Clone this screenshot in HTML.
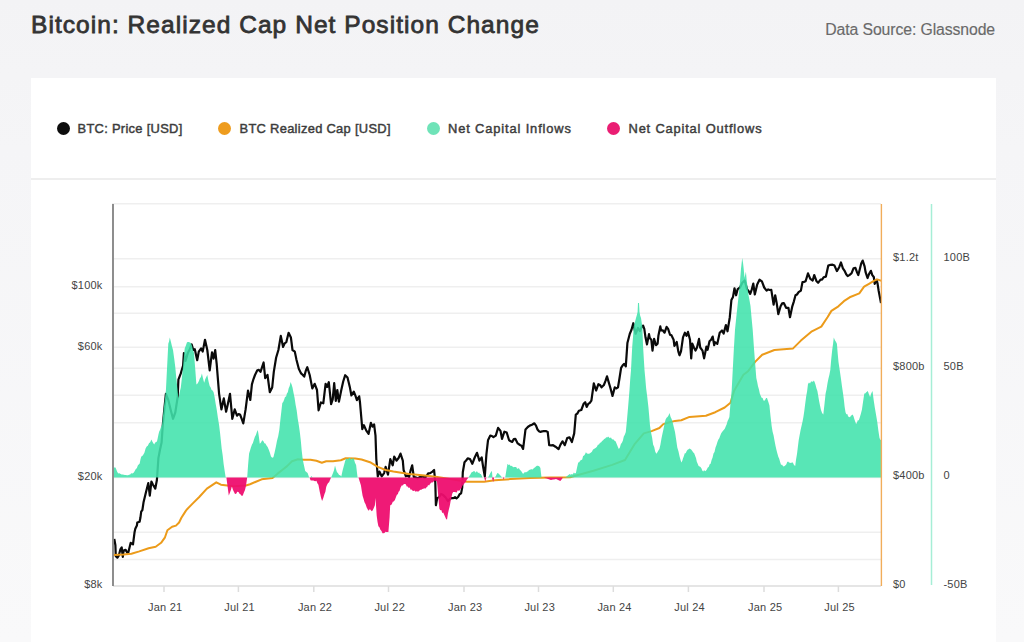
<!DOCTYPE html>
<html><head><meta charset="utf-8">
<style>
html,body{margin:0;padding:0;}
body{width:1024px;height:642px;overflow:hidden;position:relative;background:linear-gradient(180deg,#f3f3f5 0px,#f5f5f7 150px,#f9f9fa 642px);font-family:"Liberation Sans",sans-serif;}
.title{position:absolute;left:31px;top:9.7px;font-size:24.5px;line-height:30px;color:#333;font-weight:normal;letter-spacing:1.05px;white-space:nowrap;-webkit-text-stroke:0.8px #333;}
.src{position:absolute;right:29px;top:20.5px;font-size:15.8px;line-height:18px;color:#6a6a6a;letter-spacing:-0.11px;white-space:nowrap;-webkit-text-stroke:0.15px #6a6a6a;}
.card{position:absolute;left:30.5px;top:77.7px;width:965.5px;height:600px;background:#fff;}
.sep{position:absolute;left:30.5px;top:178.3px;width:965.5px;height:1.5px;background:#eeeeee;}
.leg{position:absolute;top:120.7px;font-size:12.9px;line-height:16px;color:#3c3c3c;font-weight:normal;white-space:nowrap;-webkit-text-stroke:0.45px #3c3c3c;}
.dot{position:absolute;top:121.7px;width:13px;height:13px;border-radius:50%;}
svg{position:absolute;left:0;top:0;}
</style></head><body>
<div class="title">Bitcoin: Realized Cap Net Position Change</div>
<div class="src">Data Source: Glassnode</div>
<div class="card"></div>
<div class="sep"></div>
<div class="dot" style="left:56.5px;background:#0d0d0d"></div><div class="leg" style="left:77.5px;letter-spacing:0.3px">BTC: Price [USD]</div>
<div class="dot" style="left:218.3px;background:#ee9c1e"></div><div class="leg" style="left:239.5px;letter-spacing:0.3px">BTC Realized Cap [USD]</div>
<div class="dot" style="left:426.9px;background:#6fe3b8"></div><div class="leg" style="left:448px;letter-spacing:0.86px">Net Capital Inflows</div>
<div class="dot" style="left:607.2px;background:#ea1e73"></div><div class="leg" style="left:628.5px;letter-spacing:0.82px">Net Capital Outflows</div>
<svg width="1024" height="642" viewBox="0 0 1024 642">
<g stroke="#efefef" stroke-width="1.5"><line x1="114" x2="881" y1="258.8" y2="258.8"/><line x1="114" x2="881" y1="286.7" y2="286.7"/><line x1="114" x2="881" y1="313.2" y2="313.2"/><line x1="114" x2="881" y1="347.2" y2="347.2"/><line x1="114" x2="881" y1="368.2" y2="368.2"/><line x1="114" x2="881" y1="395.2" y2="395.2"/><line x1="114" x2="881" y1="422.8" y2="422.8"/><line x1="114" x2="881" y1="477.6" y2="477.6"/><line x1="114" x2="881" y1="532.3" y2="532.3"/><line x1="114" x2="881" y1="559.5" y2="559.5"/><line x1="112" x2="881" y1="203.8" y2="203.8"/></g>
<g stroke="#dddddd" stroke-width="1.5"><line x1="113" x2="881" y1="586" y2="586"/><line x1="164" x2="164" y1="586" y2="592"/><line x1="238.4" x2="238.4" y1="586" y2="592"/><line x1="313.8" x2="313.8" y1="586" y2="592"/><line x1="388.5" x2="388.5" y1="586" y2="592"/><line x1="464" x2="464" y1="586" y2="592"/><line x1="538.5" x2="538.5" y1="586" y2="592"/><line x1="613.3" x2="613.3" y1="586" y2="592"/><line x1="688.4" x2="688.4" y1="586" y2="592"/><line x1="764" x2="764" y1="586" y2="592"/><line x1="838.4" x2="838.4" y1="586" y2="592"/></g>
<path d="M114.3 538.9 L115.4 545.2 L115.8 556.1 L117.4 557.7 L118.9 555.3 L120.5 549.1 L121.7 547.5 L122.8 556.9 L123.6 550.6 L125.6 549.8 L127.1 552.6 L128.3 552.6 L130.7 542.8 L133 544.4 L134.6 531.9 L135.3 528.8 L136.9 525.6 L137.3 522.5 L139.6 521.7 L140.4 517.8 L141.2 511.6 L142.4 510 L143.6 501.9 L145.9 492.5 L148.3 483.1 L149.8 495.6 L151.4 481.6 L153 484.7 L155.3 488.6 L156.9 480 L158.4 458.1 L160 449.8 L161.6 442.5 L162.8 425 L164.4 408.4 L165.9 393.8 L168.3 400 L170.6 409.4 L173 418.8 L175.3 412.5 L177.7 396.9 L178.4 379.7 L180.8 373.4 L183.1 365.6 L183.9 353.1 L185.5 360.9 L187.8 353.1 L189.8 349.2 L191.7 344.5 L193.3 350 L194.8 349.2 L197.2 360.2 L198.8 351.6 L201.1 348.4 L202.7 351.6 L205 339.8 L207.3 350 L209.7 370.3 L212 352.3 L213.6 358.6 L215.2 350 L216.7 364.1 L219.1 393.8 L221.4 409.4 L223.8 398.4 L226.1 411.7 L227.7 404.7 L230 393.8 L232.3 418.8 L234.7 409.4 L237 415.6 L238.6 414 L240.2 414.8 L241.8 419.2 L243.3 423.4 L245.6 409.4 L248 390.6 L250.3 400 L251.9 384.4 L253.4 379.3 L255 375 L257.3 370.3 L258.9 369.9 L260.5 371.9 L262.1 367.2 L263.6 362.5 L265.2 378.1 L267.5 375 L269.8 392.2 L272.2 387.5 L273.8 371.9 L276.1 357.8 L278.4 350 L280.8 335.9 L283.1 346.9 L284.7 343.3 L286.3 342.2 L288.6 332.8 L290.9 337.5 L292.5 350 L294.8 351.6 L296.4 359.4 L298.8 368.8 L301.1 373.4 L302.6 374.8 L304.2 376.6 L305.8 370.7 L307.3 367.2 L309.7 375 L312.3 388.4 L314.7 383.8 L317 390 L318.6 410.3 L320.9 402.5 L323.3 403.3 L325.6 383.8 L327.2 386.9 L328.8 382.2 L331.1 404.1 L332.7 399.4 L334.2 383 L335.8 400.9 L337.3 390 L338.9 401.7 L341.3 390 L343.2 381.5 L345.2 375.2 L347.5 377.5 L349.8 386.9 L351.4 395.5 L353.8 391.6 L355.4 395.7 L356.9 400.2 L359.2 396.3 L360 402.5 L362.3 429.1 L363.9 425.2 L366.3 430.6 L368.6 433.8 L370.9 422.8 L372.5 426.7 L374.1 424.4 L375.5 435.6 L376.3 459.1 L377.8 476.3 L379.4 471.6 L381.7 476.3 L384.1 473.1 L385.6 466.9 L388 474.7 L390.3 459.1 L392.7 465.3 L394.2 456.7 L396.6 460.6 L398.6 458 L400.5 453.6 L402.8 460.6 L403.6 470 L405.9 476.3 L407.5 475.6 L409.1 477 L410.6 470.4 L412.2 465.3 L413.8 477 L415.8 477.4 L417.7 478.3 L419.7 477.2 L421.6 477 L423.2 476.5 L424.7 477.9 L426.3 476.3 L428.2 473.4 L430.2 473.1 L432.5 471.6 L434.1 470 L435.3 482.5 L435.9 505.2 L437.2 498.1 L439.1 497.1 L441 494 L443.2 495.1 L445.5 497.4 L448 501 L449.8 499 L451.6 498 L453.4 498.1 L455 497.2 L456.5 498.3 L458.1 497 L459.6 494.3 L461.1 493.4 L462.2 487.6 L462.8 472.3 L464.5 462.2 L466.1 460.5 L467.7 458.3 L470 459.1 L472.3 463.8 L474.7 457.5 L477 452.8 L479.4 460.6 L481.7 457.5 L483.2 467.3 L484.8 476.3 L486.4 454.4 L488 440.3 L490.3 435.6 L491.9 436 L493.4 437.2 L495.8 435.6 L498.1 427.8 L500.5 430.9 L502 438.8 L504.4 431.7 L506.7 432.5 L509.1 440.3 L510.7 441.2 L512.2 441.9 L513.8 439.1 L515.3 438.8 L517.7 443.4 L520 445 L521.5 445.7 L523.1 448.9 L525.5 429.4 L527.8 427 L529.7 425.6 L532 424.8 L534.4 423.3 L536 425.6 L537.5 429.5 L539 431.2 L540.6 431.9 L542.2 431.3 L543.8 431.1 L545.8 431 L547.7 431.9 L549.2 445.2 L551.2 445.4 L553.1 445.2 L555.5 446.7 L557 447.8 L558.6 449.1 L560.5 444.6 L562.5 441.3 L564.8 445.2 L567.2 438.1 L569.5 437.3 L571.9 442 L574.2 433.4 L575.8 414.7 L577.3 413.6 L578.9 410.8 L581.3 410 L583.6 403.8 L585.2 402.2 L586.7 406.9 L588.3 403.8 L589.8 402.8 L591.4 400.6 L593.8 383.4 L596.1 390.5 L598.4 384.2 L600 385 L601.6 387.3 L603.9 385 L605.5 380.9 L607 376.4 L608.6 381.9 L610.2 387.3 L612.5 395.9 L614.8 387.3 L616.4 388.4 L618 387.3 L619.5 378.2 L621.1 367.8 L622.7 365.3 L624.2 363.9 L625.8 366.3 L627.4 343.1 L629.8 333.7 L631.5 329.8 L633.3 323.2 L635.6 333.7 L638 328 L640 331.1 L641.5 327.3 L643.1 325.6 L644.3 328.8 L645.5 337.3 L647 344.4 L649 334.2 L649.8 338.1 L651.3 339.7 L652.5 350.6 L654.1 338.9 L656 345.2 L657.6 343.6 L658.4 335.8 L660.3 326.4 L661.1 330.3 L662.7 330.3 L664.6 332.7 L666.6 326.8 L668.1 328.8 L670.1 335 L671.3 335 L673.6 339.7 L674.4 345.9 L676.7 342 L678.3 351.4 L679.5 355.3 L681 351.4 L683 337.3 L684.9 332.7 L686.5 335.8 L688 331.9 L690 339.7 L691.2 358.4 L692.3 343.6 L693.9 347.5 L695.5 350.6 L697 347.5 L699 338.9 L700.2 347.5 L702.5 350.6 L704.1 358.4 L706.4 346.7 L707.6 349.8 L709.5 341.3 L711.1 339.7 L712.7 336.6 L714.2 345.2 L715 342.2 L717.3 343.8 L719.7 332.8 L722 330.5 L723.6 333.6 L725.9 325 L727.5 331.3 L729.8 317.2 L731.4 300 L733 296.9 L734.5 288.3 L736.1 295.3 L737.7 289.1 L740 287.5 L742.3 282.8 L744.7 280.5 L747 289.1 L748.6 291.2 L750.2 293.8 L751.8 289.4 L753.3 283.6 L754.8 294.5 L757.2 284.4 L759.5 279.7 L761.9 281.3 L764.2 287.5 L766.6 290.6 L768.2 289.4 L769.7 290 L771.3 289.8 L773.6 304.7 L775.2 295.3 L776.7 303.1 L778.3 314.1 L780.6 306.3 L782.2 303.4 L783.8 303.1 L786.1 307.8 L788.4 307.8 L790 317.2 L792.3 306.3 L793.9 301.3 L795.5 295.3 L797 294.5 L798.6 292.2 L800.9 290.6 L802.5 282 L804 281.9 L805.6 281.3 L808 273.4 L810.3 278.9 L812.7 280.5 L814.2 275 L816.6 281.3 L818.1 282.8 L820.5 279.7 L822 279.6 L823.6 277.3 L825.9 276.6 L828.3 265.6 L830.6 264.8 L832.5 264.7 L834.5 265.6 L836.9 271.1 L839.2 267.2 L841 262.5 L842.9 268.3 L844.8 271.2 L846.2 274.2 L847.7 276.1 L849.7 274.9 L851.6 273.2 L853.5 268.3 L855.4 267.9 L856.8 271.7 L858.3 275.1 L859.8 269.2 L861.2 263.5 L862.7 260.6 L864.6 266.4 L865.6 272.2 L867.5 278 L869 274.1 L870.9 270.8 L872.3 275.1 L873.8 277 L874.7 283.8 L876.7 279.9 L877.6 283.8 L878.6 290.5 L881 303.1" fill="none" stroke="#0a0a0a" stroke-width="2.2" stroke-linejoin="round"/>
<path d="M113.5 554.9 L123.6 554.5 L131.4 553.8 L139.3 551.4 L148.6 548.3 L155.7 546.7 L161.1 542.8 L165 537.3 L167.4 530.3 L172.1 526.8 L176 525.6 L179.1 522.5 L181.4 517.8 L185.3 511.6 L186.6 509.7 L192.8 503.4 L199 497.2 L206.9 488.6 L216.3 482.3 L220.9 484.7 L227.2 485.5 L233.4 486.3 L245.9 485.5 L250 484.2 L255.9 481.8 L261.7 479.3 L272.5 477.9 L277.3 473.9 L282.2 470 L287.1 466.1 L292 461.3 L297.9 459.3 L303.7 459.8 L310.5 459.8 L316.4 460.8 L321.8 462.7 L326.2 461.3 L333 461.3 L340.8 460.3 L345.7 458.3 L355.3 458.4 L361.6 459.5 L370 462.2 L377.8 466.9 L385.6 470 L393.4 471.6 L409.1 473.9 L424.7 475.5 L437.2 477 L466.9 481.7 L484.1 481.7 L495 480.2 L510.6 479.1 L530 478.1 L550.9 477.5 L570 477.3 L593.4 470.8 L612.2 464.9 L625 460 L634.4 444.4 L643.8 433.4 L651.6 431.1 L659.4 428 L663.3 424.1 L668.8 422.5 L675 420.9 L681.3 420.2 L689.5 416.9 L705.9 415.7 L715.3 412.2 L724.7 407.5 L730.5 402.8 L734 391.1 L743.4 374.7 L748.1 371.2 L755.1 361.9 L762.2 354.8 L774.4 350 L793.1 348.4 L800.9 340.6 L811.9 331.3 L821.3 326.6 L827.5 317.2 L831.4 310.9 L838.4 306.3 L843.9 301.2 L849.7 297.3 L859.3 293.4 L864.1 286.7 L869 283.8 L873.8 280.9 L877.2 279.4 L881.5 280.9" fill="none" stroke="#ec9b1a" stroke-width="2" stroke-linejoin="round"/>
<path d="M113 477.6 L113.1 467.5 L114.3 467.4 L115.5 467.5 L116.5 470 L117.4 472.2 L118.5 473.6 L119.6 473.3 L120.6 473.9 L121.7 474.5 L122.8 474.6 L123.8 474.8 L124.8 474.9 L125.9 475 L127 475.2 L128 475.3 L129.1 474.8 L130.2 474.6 L131.2 473.3 L132.3 473.5 L133.4 473 L134.6 471.3 L135.8 469 L136.8 468.2 L137.8 465.5 L138.7 464.6 L139.7 463.6 L140.5 459.3 L141.3 456.6 L142.3 455.9 L143.4 454.4 L144.4 452.7 L145.6 448.6 L146.7 446.4 L147.8 445.8 L149 443.3 L150.2 442.3 L151.4 439.4 L152.3 441.4 L153.2 443 L154.1 444.5 L155 442.9 L156 441.7 L156.9 441.7 L157.7 438.3 L158.4 434.7 L159.2 431.5 L160 430 L161 426.9 L162 425 L163 415.9 L163.9 406.9 L164.9 399.1 L165.9 390.6 L167.1 367.1 L168.3 343.8 L169.1 341.3 L169.8 337.5 L170.9 341.7 L171.9 346.1 L173 350 L174.2 358.6 L175.3 367.2 L176.3 377.9 L177.4 387.9 L178.4 398.4 L179.6 392.5 L180.8 387.5 L181.8 378.7 L182.8 368.9 L183.7 358.9 L184.7 348.4 L185.8 345.7 L187 342.2 L188 342 L188.9 342.1 L189.9 342.4 L190.9 343 L191.9 345.5 L193 350.3 L194 353.1 L195.2 368.6 L196.4 384.4 L197.6 383.5 L198.8 381.3 L199.8 378.4 L200.9 376.9 L201.9 373.4 L203.1 378.8 L204.2 382.8 L205.2 379.2 L206.3 377 L207.3 375 L208.5 381.3 L209.7 385.9 L210.7 387.4 L211.6 390 L212.6 390.4 L213.6 392.2 L214.6 397.1 L215.7 403.9 L216.7 409.4 L217.9 417.8 L219.1 425 L220 432.5 L220.8 440 L221.7 448.8 L222.7 455.5 L223.6 463.8 L224.6 470.4 L225.6 476.9 L226 477.6 L227 477.6 L228 477.6 L229 477.6 L230 477.6 L231 477.6 L232.1 477.6 L233.1 477.6 L234.1 477.6 L235.1 477.6 L236.1 477.6 L237.1 477.6 L238.1 477.6 L239.1 477.6 L240.1 477.6 L241.1 477.6 L242.2 477.6 L243.2 477.6 L244.2 477.6 L245.2 477.6 L246.2 477.6 L247.2 477.6 L248.1 464.7 L249.1 453.4 L250.1 450.2 L251 447.2 L252 444.4 L252.9 443.1 L253.9 439.8 L254.9 436.7 L255.9 435 L256.8 432.3 L257.8 430 L258.8 436.2 L259.8 443.7 L261 442.5 L262.2 440.3 L263.3 440.9 L264.4 443.3 L265.4 443.6 L266.5 445.6 L267.6 447.1 L268.7 449.6 L269.9 452.8 L271 456.4 L272.2 457.8 L273.4 457.3 L274.6 452.6 L275.9 446.6 L277 440.7 L278.2 436.3 L279.3 430 L280.3 420.4 L281.3 411.8 L282.3 403 L283.2 401.9 L284.1 399.7 L285.1 396.8 L286 396.8 L286.9 393.4 L287.8 392.2 L288.7 388.3 L289.7 385.9 L290.6 382 L291.6 384.4 L292.5 387.5 L293.5 392.8 L294.6 398.1 L295.6 404.7 L296.7 410.6 L297.7 418.4 L298.8 425 L299.8 432 L300.8 440.6 L301.7 450.4 L302.7 459.3 L303.9 464.9 L305.2 471 L306.4 471.9 L307.6 473 L308.4 475.3 L309.1 477.6 L310.5 477.6 L311.5 475.9 L312.5 477.6 L313.5 477.6 L314.5 477.6 L315.4 477.6 L316.4 477.6 L317.4 477.6 L318.4 477.6 L319.4 477.6 L320.3 477.6 L321.3 477.6 L322.3 477.6 L323.3 477.6 L324.2 477.6 L325.2 477.6 L326.2 477.6 L327.2 477.6 L328.2 477.6 L329.1 477.6 L330.1 477.6 L331.1 477.6 L332.1 475.3 L333 473 L334 470.2 L335 465.6 L335.9 468.8 L336.9 472 L338 473.2 L339.1 474.9 L340.2 475.3 L341.3 476.4 L342.6 470.6 L343.8 466.1 L345 461.5 L346.2 458.3 L347.1 459.2 L348.1 459.1 L349.1 458 L350 457.9 L350.9 459.1 L351.9 459.6 L352.9 458.1 L353.8 458.8 L355 462.8 L356.1 465 L356.9 472.1 L357.6 477.6 L358.6 477.6 L359.6 477.6 L360.6 477.6 L361.6 477.6 L362.6 477.6 L363.6 477.6 L364.6 477.6 L365.6 477.6 L366.6 477.6 L367.6 477.6 L368.6 477.6 L369.6 477.6 L370.6 477.6 L371.6 477.6 L372.6 477.6 L373.6 477.6 L374.6 477.6 L375.6 477.6 L376.6 477.6 L377.6 477.6 L378.6 477.6 L379.6 477.6 L380.6 477.6 L381.6 477.6 L382.6 477.6 L383.6 477.6 L384.6 477.6 L385.5 477.6 L386.5 477.6 L387.5 477.6 L388.5 477.6 L389.5 477.6 L390.5 477.6 L391.5 477.6 L392.5 477.6 L393.5 477.6 L394.5 477.6 L395.5 477.6 L396.5 477.6 L397.5 477.6 L398.5 477.6 L399.5 477.6 L400.5 477.6 L401.5 477.6 L402.5 477.6 L403.5 477.6 L404.5 477.6 L405.5 477.6 L406.5 477.6 L407.5 477.6 L408.5 477.6 L409.5 477.6 L410.5 477.6 L411.5 477.6 L412.5 477.6 L413.5 477.6 L414.5 477.6 L415.5 477.6 L416.5 477.6 L417.5 477.6 L418.5 477.6 L419.5 477.6 L420.5 477.6 L421.5 477.6 L422.5 477.6 L423.5 477.6 L424.5 477.6 L425.5 477.6 L426.5 477.6 L427.5 477.6 L428.5 477.6 L429.5 477.6 L430.5 477.6 L431.5 477.6 L432.5 477.6 L433.5 477.6 L434.5 477.6 L435.5 477.6 L436.5 477.6 L437.5 477.6 L438.5 477.6 L439.5 477.6 L440.5 477.6 L441.4 477.6 L442.4 477.6 L443.4 477.6 L444.4 477.6 L445.4 477.6 L446.4 477.6 L447.4 477.6 L448.4 477.6 L449.4 477.6 L450.4 477.6 L451.4 477.6 L452.4 477.6 L453.4 477.6 L454.4 477.6 L455.4 477.6 L456.4 477.6 L457.4 477.6 L458.4 477.6 L459.4 477.6 L460.4 477.6 L461.4 477.6 L462.4 477.6 L463.4 477.6 L464.4 477.6 L465.4 477.6 L466.4 477.6 L467.4 477.6 L468.4 477.6 L469.5 475.8 L470.5 474.3 L471.6 472.3 L472.5 472 L473.5 471.2 L474.4 471 L475.4 472.7 L476.3 471.6 L477.2 471.5 L478.1 472.9 L479.1 472.5 L480 474.1 L480.9 473.9 L481.7 475.8 L482.5 477.6 L483.4 477.6 L484.3 477.6 L485.2 477.6 L486.2 477.6 L487.1 477.6 L488 477.6 L489.1 475.4 L490.3 473.1 L491.1 472.1 L491.9 470.8 L492.5 477.6 L493.8 477.6 L495 477.6 L496.1 475.4 L497.3 473.1 L498.5 473.5 L499.7 474.7 L500.9 476.1 L502 477.6 L503.1 477.6 L504.1 477.6 L505.2 477.6 L506.4 470.1 L507.5 463.8 L508.5 465 L509.6 464.5 L510.6 466.1 L511.5 465.7 L512.5 466.5 L513.4 467.3 L514.4 467 L515.3 466.9 L516.2 467.1 L517.2 469 L518.1 468.2 L519.1 468.4 L520 470 L521 470.8 L522.1 472.5 L523.1 473.9 L524.2 472.5 L525.2 472.2 L526.3 472.3 L527.2 471.5 L528.1 471.3 L529.1 469.8 L530 470 L531 469.1 L532 469.6 L533 469.2 L533.9 467.9 L534.9 467.4 L535.9 466.6 L536.9 465.8 L537.8 465.7 L538.6 466 L539.5 466.6 L540.4 468.1 L541.5 477.6 L542.5 477.6 L543.5 477.6 L544.4 477.6 L545.4 477.6 L546.4 477.6 L547.4 477.6 L548.4 477.6 L549.3 477.6 L550.3 477.6 L551.3 477.6 L552.3 477.6 L553.2 477.6 L554.2 477.6 L555.2 477.6 L556.2 477.6 L557.2 477.6 L558.1 477.6 L559.1 477.6 L560.1 477.6 L561.1 477.6 L562.1 477.6 L563 477.6 L564 477.6 L565 477.6 L565.9 476.9 L566.9 476.2 L567.8 475.4 L568.8 474.7 L569.7 474 L570.7 474.7 L571.8 474.1 L572.8 474.5 L573.8 472.4 L574.9 473.5 L575.9 473.1 L577 467.8 L578.2 462.6 L579.2 462.2 L580.3 460.5 L581.3 460 L582.2 459.4 L583.1 456 L584.1 455.4 L585 454.2 L585.9 452.2 L587 453.5 L588 453.7 L589.1 453.8 L590 453.3 L591 452.5 L591.9 451.8 L592.9 449.7 L593.8 449.1 L594.8 448.4 L595.9 447.8 L596.9 446.7 L597.9 444.7 L599 444.4 L600 442.8 L601 442.6 L602.1 441.1 L603.1 440.3 L604.2 438.9 L605.2 438.4 L606.3 437.3 L607.2 437.5 L608.1 436.5 L609.1 437.6 L610 438.3 L610.9 437.3 L611.8 438.9 L612.8 439.4 L613.7 439.5 L614.7 441 L615.6 441.3 L616.7 444.1 L617.7 446.4 L618.8 449.1 L619.8 447.7 L620.9 444.1 L621.9 442.8 L622.9 440.6 L623.8 436.4 L624.8 434.8 L625.8 431.9 L627 419.4 L628.1 406.9 L629.5 390 L630.2 379.5 L631 370 L632.2 347 L633 337.2 L633.7 326.6 L634.9 322.3 L636 318 L636.8 315.2 L637.6 312 L638 303 L639 303 L639.5 312 L640.2 315.8 L641 318 L642.3 326.6 L643.1 347 L644.5 370 L645.3 378.6 L646.1 388.1 L647.2 396.5 L648.4 406.9 L649.2 415.9 L650 425.6 L651 432.2 L652.1 437.5 L653.1 444.4 L654.2 446.9 L655.2 451.5 L656.3 453.8 L657.3 452.6 L658.4 450.6 L659.4 449.1 L660.4 444.7 L661.5 438.3 L662.5 433.4 L663.5 429.1 L664.6 423.5 L665.6 419.4 L666.6 417.7 L667.5 416.9 L668.5 415.5 L669.5 413.1 L670.6 417 L671.6 419.1 L672.7 422.5 L673.9 427.4 L675 431.9 L676.1 439.3 L677.3 447.5 L678.5 451.5 L679.7 456.9 L680.5 459.7 L681.3 462.6 L682.2 460.9 L683 458.6 L683.9 456 L684.8 453.2 L685.7 453.2 L686.7 450.9 L687.6 449.7 L688.6 449.3 L689.5 448.5 L690.4 449 L691.4 449.8 L692.3 451.1 L693.3 452.5 L694.2 453.2 L695.1 455.8 L696 458.1 L696.8 461.8 L697.7 463.7 L698.6 466.1 L699.6 466.4 L700.5 467.1 L701.5 468.4 L702.4 470.8 L703.3 471.5 L704.1 469.9 L705 471.2 L705.9 470.8 L706.8 469.5 L707.8 467.6 L708.7 467.1 L709.7 464.2 L710.6 463.7 L711.6 459.9 L712.6 457.4 L713.5 453.4 L714.5 451.9 L715.5 447.6 L716.5 445 L717.4 441.9 L718.4 439.4 L719.3 438.2 L720.3 435.5 L721.2 433.3 L722.1 432.1 L723 430.8 L724 429.7 L724.9 428.5 L725.8 426.2 L726.7 424.2 L727.6 420.9 L728.5 419.2 L729.4 416.9 L730.5 402.8 L731.7 390 L732.8 369 L733.8 350 L735 329.8 L736.2 317.9 L737.5 306.1 L738.8 294.1 L740 281.2 L741 268.7 L742.2 258.1 L743 262.8 L743.7 268.7 L744.5 278 L745.9 271.8 L746.8 281.2 L747.6 287.6 L748.5 295 L749.5 300.2 L750.5 306.1 L751.6 318.3 L752.7 329.8 L754.1 350 L755.2 364 L756.3 378 L757.2 382.1 L758 386.2 L758.9 389.3 L759.8 393.4 L760.7 395.8 L761.6 397.8 L762.6 397.9 L763.5 400.5 L764.4 400.8 L765.2 399.7 L766.1 398 L767 398.1 L768.2 401.6 L769.4 405.2 L770.5 416 L771.7 426.2 L772.6 431.7 L773.6 435.4 L774.5 440.4 L775.5 445.8 L776.4 449.7 L777.3 453.3 L778.3 456.7 L779.2 458.7 L780.2 462.2 L781.1 464.9 L782 464.6 L782.9 465.9 L783.7 466.4 L784.6 466.1 L785.5 465.2 L786.4 464.2 L787.2 462 L788.1 461.4 L789 462.4 L790 462.8 L790.9 463.1 L791.9 462.4 L792.8 462.6 L794 464.9 L795.2 466.1 L796.1 459.3 L797 454 L797.8 447.5 L798.7 440.3 L799.6 435.3 L800.6 430.1 L801.5 426.1 L802.5 421.7 L803.4 416.9 L804.3 410.9 L805.2 403.8 L806.2 396.3 L807.1 391.3 L808 384.1 L809 382.6 L810 383.5 L811 381.6 L811.9 381.4 L812.9 381.7 L813.9 380.5 L814.8 382.4 L815.6 385.1 L816.5 388.5 L817.4 391.1 L818.3 396.2 L819.1 401.1 L820 405.5 L820.9 409.8 L822.1 413 L823.3 414.5 L824.5 403.9 L825.6 393.4 L826.5 389.6 L827.5 383.2 L828.4 378.8 L829.4 374.7 L830.3 370 L831.2 359.6 L832.2 350 L833 344.2 L833.8 337.5 L834.8 339.9 L835.9 341.7 L836.9 343.8 L837.7 353.5 L838.5 361.9 L839.7 370 L840.9 378.3 L842 386.4 L842.9 392.5 L843.8 399.1 L844.6 406.4 L845.5 412.2 L846.4 414.2 L847.3 414 L848.2 416.4 L849.1 416.9 L850 417.2 L850.9 415.7 L851.7 415.2 L852.6 414.5 L853.5 416.3 L854.4 419.3 L855.2 421.6 L856.1 423.9 L857 422.6 L857.9 420 L858.7 420.4 L859.6 418 L860.8 413.9 L861.9 409.8 L863.1 401.4 L864.3 393.4 L865.2 393.4 L866 392.4 L866.9 391.7 L867.8 391.1 L869 394.4 L870.1 397 L871.3 393.2 L872.5 391.1 L873.6 399.4 L874.8 407.5 L876 414.4 L877.2 421.6 L878.4 430.7 L879.5 438 L880.5 440 L881.4 440.3 L881.4 477.6 Z" fill="#41e3ac" fill-opacity="0.88"/>
<path d="M226.4 477.6 L227.6 486.8 L228.8 495.6 L229.8 493 L230.9 490 L231.9 486.3 L232.9 489.8 L234 492 L235 494.1 L236.2 493.7 L237.3 491.7 L238.5 492 L239.7 494.1 L240.7 494.5 L241.8 496 L242.8 495.6 L243.8 492.8 L244.9 490.2 L245.9 486.3 L247.2 477.6 Z M309.6 477.6 L310.5 480.3 L311.5 480.4 L312.5 480.5 L313.4 480.6 L314.4 480.9 L315.4 481.2 L316.4 480.8 L317.4 483.3 L318.4 484.7 L319.8 492 L321 497.4 L322.1 501 L323.3 498 L324.5 494 L325.4 491.7 L326.2 486.9 L327.1 484.7 L328.1 483 L329.1 482.3 L330.1 479.8 L331.1 477.6 Z M358.5 477.6 L359.7 481.6 L360.9 485.2 L361.8 491 L362.6 495.8 L363.6 499.1 L364.5 502.2 L365.5 504 L366.7 507.4 L367.9 509.8 L368.8 510.8 L369.8 509.1 L370.7 510.1 L371.7 511.2 L372.6 510.4 L373.8 508.1 L374.9 505.2 L375.5 498.1 L376.7 515.7 L377.5 521.8 L378.4 526.3 L379.4 527.3 L380.4 529.7 L381.5 531 L382.5 533.3 L383.5 533.2 L384.5 533 L385.4 531.7 L386.4 531.9 L387.4 531.9 L388.4 532.1 L389.6 516.9 L390.2 505.2 L391.1 505.1 L391.9 503.9 L392.8 501.8 L393.7 501.6 L394.9 499.9 L396 497 L396.9 494.8 L397.8 494.3 L398.6 491.8 L399.5 491.1 L400.7 487.2 L401.9 485.2 L402.9 485.6 L403.8 483.9 L404.8 484.1 L405.8 484.3 L406.7 486.6 L407.7 486.4 L408.7 487.9 L409.7 487.5 L410.6 489.7 L411.6 489.6 L412.6 490.7 L413.6 491.1 L414.6 490.4 L415.6 491.8 L416.6 491.2 L417.5 491.6 L418.5 491.4 L419.5 490.5 L420.5 489.8 L421.4 489.7 L422.4 489 L423.4 488.7 L424.3 488.2 L425.3 488.8 L426.2 487.5 L427.2 487.1 L428.1 485 L429.1 485.4 L430 484.1 L430.9 483.1 L431.9 482.3 L432.8 482.6 L433.8 481.2 L434.7 480.5 L435.9 480.7 L437 481.7 L438.2 495.2 L439.4 508.7 L440.3 510.3 L441.3 510.1 L442.2 513.1 L443.2 512.4 L444.1 514.5 L445.1 516.8 L446 518.7 L447 519.8 L447.9 513.8 L448.8 509.8 L449.7 506.3 L450.6 501.3 L451.4 497.7 L452.3 493.4 L453.2 492.1 L454.1 491.9 L454.9 491.9 L455.8 492.3 L456.7 492.5 L457.7 490.3 L458.6 490.7 L459.6 490.4 L460.5 488.8 L461.4 488.5 L462.2 486.1 L463.1 485 L464 484.1 L464.9 482.8 L465.8 482 L466.6 480.1 L467.5 478.8 L468.7 477.6 Z M484.1 477.6 L485.3 481.5 L486.4 477.6 Z M491.9 477.6 L493.2 482 L494.2 477.6 Z M502.8 477.6 L503.6 479.5 L504.4 477.6 Z M544 477.6 L545 477.9 L546 478.3 L547 478.6 L548 479 L549 479.3 L550 479.7 L551 480 L552 479.8 L553 479.6 L554 479.4 L555 479.2 L556 479 L557.1 479.5 L558.1 480 L559.2 480.5 L560.3 481 L561.2 479.9 L562.1 478.7 L563 477.6 Z" fill="#ee0e6f" fill-opacity="0.95"/>
<line x1="113" x2="113" y1="204" y2="586" stroke="#888888" stroke-width="1.9"/>
<line x1="881.4" x2="881.4" y1="204" y2="586" stroke="#f1ad5a" stroke-width="1.4"/>
<line x1="931.5" x2="931.5" y1="204" y2="585" stroke="#a6eed6" stroke-width="1.5"/>
<g font-family="Liberation Sans" font-size="11" fill="#444444" letter-spacing="0.2" style="-webkit-text-stroke:0.5px #444444"><text x="102.5" y="289" text-anchor="end">$100k</text><text x="102.5" y="350" text-anchor="end">$60k</text><text x="102.5" y="480" text-anchor="end">$20k</text><text x="102.5" y="588" text-anchor="end">$8k</text><text x="893" y="261">$1.2t</text><text x="893" y="370">$800b</text><text x="893" y="479">$400b</text><text x="893" y="588">$0</text><text x="943.5" y="261">100B</text><text x="943.5" y="370">50B</text><text x="943.5" y="479">0</text><text x="943.5" y="588">-50B</text><text x="165.2" y="611" text-anchor="middle">Jan 21</text><text x="239.6" y="611" text-anchor="middle">Jul 21</text><text x="315" y="611" text-anchor="middle">Jan 22</text><text x="389.7" y="611" text-anchor="middle">Jul 22</text><text x="465.2" y="611" text-anchor="middle">Jan 23</text><text x="539.7" y="611" text-anchor="middle">Jul 23</text><text x="614.5" y="611" text-anchor="middle">Jan 24</text><text x="689.6" y="611" text-anchor="middle">Jul 24</text><text x="765.2" y="611" text-anchor="middle">Jan 25</text><text x="839.6" y="611" text-anchor="middle">Jul 25</text></g>
</svg>
</body></html>
